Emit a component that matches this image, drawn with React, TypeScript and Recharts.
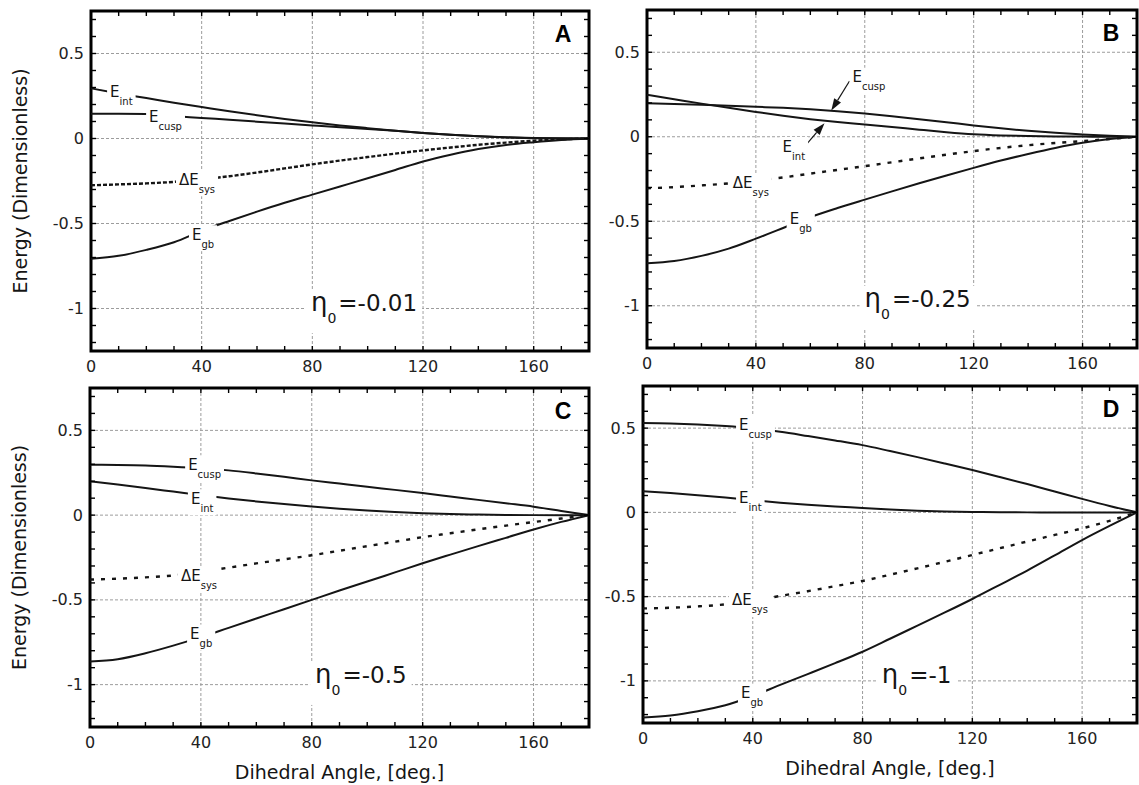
import React from 'react';
import { ComposedChart, Line, XAxis, YAxis, CartesianGrid, Scatter, ReferenceLine, ReferenceArea } from 'recharts';

// ---------- data ----------
const ANGLES = [0, 10, 20, 30, 40, 50, 60, 70, 80, 90, 100, 110, 120, 130, 140, 150, 160, 170, 180];

// Panel A (eta0 = -0.01)
const A_INT = [0.295, 0.265, 0.238, 0.21, 0.185, 0.16, 0.137, 0.115, 0.095, 0.077, 0.061, 0.046, 0.033, 0.022, 0.013, 0.007, 0.003, 0.001, 0];
const A_CUSP = [0.146, 0.146, 0.144, 0.132, 0.121, 0.11, 0.099, 0.088, 0.077, 0.066, 0.056, 0.045, 0.033, 0.022, 0.013, 0.006, 0.002, 0.0005, 0];
const A_SYS = [-0.275, -0.27, -0.264, -0.255, -0.24, -0.222, -0.2, -0.176, -0.152, -0.13, -0.109, -0.089, -0.07, -0.053, -0.037, -0.024, -0.013, -0.005, 0];
const A_GB = [-0.707, -0.69, -0.655, -0.61, -0.543, -0.485, -0.43, -0.378, -0.33, -0.282, -0.234, -0.185, -0.135, -0.095, -0.062, -0.038, -0.022, -0.009, 0];

// Panel B (eta0 = -0.25)
const B_INT = [0.248, 0.222, 0.196, 0.171, 0.147, 0.124, 0.104, 0.087, 0.073, 0.058, 0.042, 0.027, 0.015, 0.008, 0.004, 0.002, 0.001, 0, 0];
const B_CUSP = [0.198, 0.194, 0.189, 0.183, 0.177, 0.171, 0.162, 0.151, 0.138, 0.122, 0.104, 0.086, 0.067, 0.05, 0.035, 0.023, 0.014, 0.006, 0];
const B_SYS = [-0.305, -0.298, -0.288, -0.276, -0.26, -0.241, -0.218, -0.196, -0.174, -0.151, -0.128, -0.106, -0.085, -0.066, -0.05, -0.037, -0.026, -0.013, 0];
const B_GB = [-0.748, -0.735, -0.705, -0.662, -0.603, -0.54, -0.476, -0.422, -0.372, -0.323, -0.275, -0.229, -0.184, -0.141, -0.102, -0.066, -0.036, -0.014, 0];

// Panel C (eta0 = -0.5)
const C_INT = [0.199, 0.18, 0.16, 0.139, 0.118, 0.098, 0.081, 0.065, 0.051, 0.038, 0.027, 0.018, 0.011, 0.006, 0.003, 0.001, 0, 0, 0];
const C_CUSP = [0.297, 0.296, 0.293, 0.286, 0.277, 0.264, 0.246, 0.226, 0.205, 0.186, 0.167, 0.149, 0.13, 0.11, 0.09, 0.07, 0.05, 0.025, 0];
const C_SYS = [-0.38, -0.375, -0.367, -0.356, -0.335, -0.31, -0.285, -0.261, -0.237, -0.21, -0.183, -0.157, -0.13, -0.107, -0.084, -0.062, -0.041, -0.02, 0];
const C_GB = [-0.864, -0.85, -0.815, -0.77, -0.72, -0.665, -0.61, -0.555, -0.5, -0.445, -0.392, -0.338, -0.284, -0.233, -0.183, -0.134, -0.085, -0.04, 0];

// Panel D (eta0 = -1)
const D_INT = [0.126, 0.115, 0.102, 0.088, 0.072, 0.057, 0.045, 0.035, 0.026, 0.017, 0.01, 0.005, 0.002, 0.001, 0, 0, 0, 0, 0];
const D_CUSP = [0.53, 0.528, 0.522, 0.512, 0.498, 0.478, 0.453, 0.427, 0.399, 0.364, 0.328, 0.29, 0.251, 0.21, 0.168, 0.124, 0.08, 0.038, 0];
const D_SYS = [-0.57, -0.566, -0.558, -0.546, -0.525, -0.496, -0.468, -0.438, -0.407, -0.37, -0.332, -0.293, -0.253, -0.213, -0.173, -0.134, -0.095, -0.05, 0];
const D_GB = [-1.217, -1.205, -1.18, -1.145, -1.09, -1.024, -0.96, -0.895, -0.827, -0.75, -0.672, -0.594, -0.514, -0.43, -0.345, -0.255, -0.164, -0.08, 0];

// curve labels (angle where label starts, energy at label centre)
const A_LABELS = [
  { angle: 6.9, val: 0.278, main: 'E', sub: 'int' },
  { angle: 21, val: 0.131, main: 'E', sub: 'cusp' },
  { angle: 31.8, val: -0.24, main: 'ΔE', sub: 'sys' },
  { angle: 36.5, val: -0.563, main: 'E', sub: 'gb' },
];
const B_LABELS = [
  { angle: 75.5, val: 0.355, main: 'E', sub: 'cusp' },
  { angle: 49.8, val: -0.055, main: 'E', sub: 'int' },
  { angle: 31.5, val: -0.271, main: 'ΔE', sub: 'sys' },
  { angle: 52.4, val: -0.485, main: 'E', sub: 'gb' },
];
const C_LABELS = [
  { angle: 35.4, val: 0.3, main: 'E', sub: 'cusp' },
  { angle: 36.4, val: 0.099, main: 'E', sub: 'int' },
  { angle: 32.8, val: -0.356, main: 'ΔE', sub: 'sys' },
  { angle: 36.1, val: -0.699, main: 'E', sub: 'gb' },
];
const D_LABELS = [
  { angle: 35, val: 0.52, main: 'E', sub: 'cusp' },
  { angle: 35, val: 0.091, main: 'E', sub: 'int' },
  { angle: 32.4, val: -0.52, main: 'ΔE', sub: 'sys' },
  { angle: 35.7, val: -1.07, main: 'E', sub: 'gb' },
];
const B_ARROWS = [
  { x1: 74.4, y1: 0.33, x2: 67.7, y2: 0.155 },
  { x1: 58.5, y1: -0.046, x2: 65.2, y2: 0.08 },
];

const ETA_TEXTS = ['=-0.01', '=-0.25', '=-0.5', '=-1'];
const ETA_POS = [
  { angle: 79.5, val: -1.016 },
  { angle: 79.9, val: -1.006 },
  { angle: 81.2, val: -0.99 },
  { angle: 87, val: -1.014 },
];
const LETTERS = ['A', 'B', 'C', 'D'];

const X_TICKS = [0, 10, 20, 30, 40, 50, 60, 70, 80, 90, 100, 110, 120, 130, 140, 150, 160, 170, 180];
const X_LABELS = [0, 40, 80, 120, 160];
const Y_TICKS = [-1.2, -1.1, -1, -0.9, -0.8, -0.7, -0.6, -0.5, -0.4, -0.3, -0.2, -0.1, 0, 0.1, 0.2, 0.3, 0.4, 0.5, 0.6, 0.7];
const Y_LABELS = [0.5, 0, -0.5, -1];
const Y_LABEL_TEXT = ['0.5', '0', '-0.5', '-1'];
const GRID_X = [40, 80, 120, 160];
const GRID_Y = [0.5, 0, -0.5, -1];

// ---------- styles ----------
const FONT = "'DejaVu Sans', 'Open Sans', sans-serif";
const INK = '#151515';
const TICK_LEN = 5;

const CHAR_W: Record<string, number> = {
  i: 0.278, n: 0.634, t: 0.392, c: 0.55, u: 0.634, s: 0.521, p: 0.635, y: 0.592, g: 0.635, b: 0.635,
  '=': 0.838, '-': 0.361, '.': 0.318, '0': 0.636, '1': 0.636, '2': 0.636, '5': 0.636,
};
const textW = (t: string, size: number) => {
  let w = 0;
  for (const ch of t) w += (CHAR_W[ch] ?? 0.62) * size;
  return w;
};

const CurveLabel = (props: any) => {
  const { cx, cy, payload } = props;
  if (cx == null || cy == null) return null;
  const main: string = payload.main;
  const sub: string = payload.sub;
  const mainW = main === 'ΔE' ? (0.684 + 0.632) * 15 : 0.632 * 15;
  const w = mainW + textW(sub, 10);
  return (
    <g>
      <rect x={cx - 3} y={cy - 9} width={w + 6} height={26} fill="#fff" />
      <text x={cx} y={cy + 5.5} fontFamily={FONT} fontSize={15} fill={INK}>
        {main}
        <tspan fontSize={10} dy={8}>{sub}</tspan>
      </text>
    </g>
  );
};

const makeEtaLabel = (txt: string) => (props: any) => {
  const { cx, cy } = props;
  if (cx == null || cy == null) return null;
  const total = 16.5 + 8.9 + 2 + textW(txt, 23);
  return (
    <g>
      <rect x={cx - 5} y={cy - 21} width={total + 10} height={43} fill="#fff" />
      <text x={cx} y={cy} fontFamily={FONT} fontSize={23} fill={INK}>
        <tspan fontSize={26}>η</tspan>
        <tspan fontSize={14} dy={12}>0</tspan>
        <tspan dy={-12} dx={2}>{txt}</tspan>
      </text>
    </g>
  );
};

const makeLetter = (letter: string) => (props: any) => {
  const { cx, cy } = props;
  if (cx == null || cy == null) return null;
  return (
    <text x={cx - 26} y={cy + 31} textAnchor="middle" fontFamily="'Liberation Sans', Arial, sans-serif" fontWeight="bold" fontSize={23} fill="#000">
      {letter}
    </text>
  );
};

const Arrow = (p: any) => {
  const { x1, y1, x2, y2 } = p;
  if (x1 == null) return null;
  const dx = x2 - x1;
  const dy = y2 - y1;
  const L = Math.hypot(dx, dy) || 1;
  const ux = dx / L;
  const uy = dy / L;
  const hl = 12;
  const hw = 4;
  const bx = x2 - ux * hl;
  const by = y2 - uy * hl;
  return (
    <g>
      <line x1={x1} y1={y1} x2={bx} y2={by} stroke={INK} strokeWidth={1.2} />
      <polygon points={`${x2},${y2} ${bx - uy * hw},${by + ux * hw} ${bx + uy * hw},${by - ux * hw}`} fill={INK} />
    </g>
  );
};

const yTitle = (props: any) => {
  const vb = props.viewBox || {};
  const x = vb.x + 19;
  const y = vb.y + vb.height / 2;
  return (
    <text x={x} y={y} transform={`rotate(-90, ${x}, ${y})`} textAnchor="middle" dominantBaseline="central" fontFamily={FONT} fontSize={19} fill={INK}>
      Energy (Dimensionless)
    </text>
  );
};

const xTitle = (props: any) => {
  const vb = props.viewBox || {};
  const x = vb.x + vb.width / 2;
  const y = vb.y + 45;
  return (
    <text x={x} y={y} textAnchor="middle" dominantBaseline="central" fontFamily={FONT} fontSize={19} fill={INK}>
      Dihedral Angle, [deg.]
    </text>
  );
};

// bottom tick: inward mark at bottom and top edge plus label
const makeXTick = (plotH: number) => (props: any) => {
  const { x, y, payload } = props;
  const v = payload.value;
  const show = X_LABELS.includes(v);
  return (
    <g>
      <line x1={x} y1={y} x2={x} y2={y - TICK_LEN} stroke="#000" strokeWidth={1.4} />
      <line x1={x} y1={y - plotH} x2={x} y2={y - plotH + TICK_LEN} stroke="#000" strokeWidth={1.4} />
      {show && (
        <text x={x} y={y + 21} textAnchor="middle" fontFamily={FONT} fontSize={16} fill="#222">
          {String(v)}
        </text>
      )}
    </g>
  );
};

const makeYTick = (plotW: number) => (props: any) => {
  const { x, y, payload } = props;
  const v = payload.value;
  const i = Y_LABELS.findIndex((l) => Math.abs(l - v) < 1e-9);
  return (
    <g>
      <line x1={x} y1={y} x2={x + TICK_LEN} y2={y} stroke="#000" strokeWidth={1.4} />
      <line x1={x + plotW} y1={y} x2={x + plotW - TICK_LEN} y2={y} stroke="#000" strokeWidth={1.4} />
      {i >= 0 && (
        <text x={x - 7} y={y} textAnchor="end" dominantBaseline="central" fontFamily={FONT} fontSize={16} fill="#222">
          {Y_LABEL_TEXT[i]}
        </text>
      )}
    </g>
  );
};

type Panel = {
  left: number; top: number; w: number; h: number; axisW: number; axisH: number;
  showY: boolean; showX: boolean;
  int: number[]; cusp: number[]; sys: number[]; gb: number[];
  labels: any[]; dash: string; idx: number; arrows?: any[];
};

const PANELS: Panel[] = [
  { left: 91, top: 11, w: 498, h: 340, axisW: 90, axisH: 30, showY: true, showX: false, int: A_INT, cusp: A_CUSP, sys: A_SYS, gb: A_GB, labels: A_LABELS, dash: '4 2', idx: 0 },
  { left: 647, top: 10, w: 490, h: 338, axisW: 50, axisH: 30, showY: false, showX: false, int: B_INT, cusp: B_CUSP, sys: B_SYS, gb: B_GB, labels: B_LABELS, dash: '4 7', idx: 1, arrows: B_ARROWS },
  { left: 90, top: 388, w: 499, h: 339, axisW: 90, axisH: 65, showY: true, showX: true, int: C_INT, cusp: C_CUSP, sys: C_SYS, gb: C_GB, labels: C_LABELS, dash: '4 7', idx: 2 },
  { left: 643, top: 386, w: 494, h: 337, axisW: 50, axisH: 65, showY: false, showX: true, int: D_INT, cusp: D_CUSP, sys: D_SYS, gb: D_GB, labels: D_LABELS, dash: '4 7', idx: 3 },
];

function PanelChart({ p }: { p: Panel }) {
  const data = ANGLES.map((a, i) => ({ angle: a, int: p.int[i], cusp: p.cusp[i], sys: p.sys[i], gb: p.gb[i] }));
  const etaData = [{ angle: ETA_POS[p.idx].angle, val: ETA_POS[p.idx].val }];
  const letterData = [{ angle: 180, val: 0.75 }];
  const width = p.axisW + p.w + 10;
  const height = p.h + p.axisH + 10;
  return (
    <div style={{ position: 'absolute', left: p.left - p.axisW - 5, top: p.top - 5, width, height }}>
      <ComposedChart width={width} height={height} data={data} margin={{ top: 5, right: 5, bottom: 5, left: 5 }}>
        <CartesianGrid verticalValues={GRID_X} horizontalValues={GRID_Y} stroke="#9c9c9c" strokeDasharray="3 2" strokeWidth={1} />
        <XAxis dataKey="angle" type="number" domain={[0, 180]} allowDataOverflow ticks={X_TICKS} interval={0}
          tickSize={0} tickMargin={0} height={p.axisH} axisLine={false} tickLine={false} tick={makeXTick(p.h)}
          label={p.showX ? xTitle : undefined} />
        <YAxis type="number" domain={[-1.25, 0.75]} allowDataOverflow ticks={Y_TICKS} interval={0}
          tickSize={0} tickMargin={0} width={p.axisW} axisLine={false} tickLine={false} tick={makeYTick(p.w)}
          label={p.showY ? yTitle : undefined} />
        <ReferenceArea x1={0} x2={180} y1={-1.25} y2={0.75} fill="none" fillOpacity={0} stroke="#000" strokeWidth={3} ifOverflow="visible" />
        <Line type="monotone" dataKey="cusp" stroke={INK} strokeWidth={2} dot={false} isAnimationActive={false} />
        <Line type="monotone" dataKey="int" stroke={INK} strokeWidth={2} dot={false} isAnimationActive={false} />
        <Line type="monotone" dataKey="sys" stroke={INK} strokeWidth={2.4} strokeDasharray={p.dash} dot={false} isAnimationActive={false} />
        <Line type="monotone" dataKey="gb" stroke={INK} strokeWidth={2} dot={false} isAnimationActive={false} />
        <Scatter data={p.labels} dataKey="val" shape={CurveLabel} isAnimationActive={false} />
        <Scatter data={etaData} dataKey="val" shape={makeEtaLabel(ETA_TEXTS[p.idx])} isAnimationActive={false} />
        <Scatter data={letterData} dataKey="val" shape={makeLetter(LETTERS[p.idx])} isAnimationActive={false} />
        {(p.arrows || []).map((a, i) => (
          <ReferenceLine key={i} segment={[{ x: a.x1, y: a.y1 }, { x: a.x2, y: a.y2 }]} shape={Arrow} ifOverflow="visible" />
        ))}
      </ComposedChart>
    </div>
  );
}

export default function App() {
  return (
    <div style={{ position: 'absolute', left: 0, top: 0, width: 1139, height: 785, overflow: 'hidden', background: '#fff' }}>
      {PANELS.map((p) => (
        <PanelChart key={p.idx} p={p} />
      ))}
    </div>
  );
}
